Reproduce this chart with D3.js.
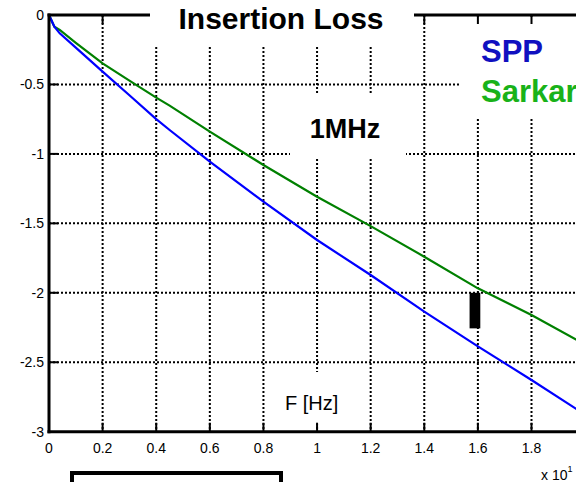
<!DOCTYPE html>
<html>
<head>
<meta charset="utf-8">
<script src="https://cdn.jsdelivr.net/npm/d3@7"></script>
<style>
  body { margin: 0; background: #fff; }
  svg { display: block; font-family: "Liberation Sans", Arial, Helvetica, sans-serif; }
</style>
</head>
<body>
<svg id="chart" width="576" height="482"></svg>
<script>
// frequency (x 10^1 scale on axis), insertion loss values
const freq   = [0, 0.02, 0.04, 0.1, 0.2, 0.3, 0.4, 0.45, 0.6, 0.8, 1.0, 1.2, 1.4, 1.6, 1.8, 1.97, 2.0];
const spp    = [0, -0.084, -0.132, -0.235, -0.408, -0.578, -0.75, -0.828, -1.056, -1.344, -1.62, -1.872, -2.136, -2.386, -2.628, -2.84, -2.875];
const sarkar = [0, -0.084, -0.108, -0.2, -0.348, -0.472, -0.595, -0.652, -0.84, -1.08, -1.308, -1.52, -1.74, -1.968, -2.16, -2.34, -2.37];

const xTicks = [0, 0.2, 0.4, 0.6, 0.8, 1, 1.2, 1.4, 1.6, 1.8, 2];
const yTicks = [0, -0.5, -1, -1.5, -2, -2.5, -3];

// the small black bar near f=1.6
const barX = [1.569, 1.609];
const barY = [-2.0, -2.256];

const svg = d3.select('#chart');

const x = d3.scaleLinear().domain([0, 1.8]).range([49, 531.5]);
const y = d3.scaleLinear().domain([0, -3]).range([15, 431.7]);

const x0 = x(0), y0 = y(-3), yTop = y(0), xRight = x(2);

// grid
const grid = svg.append('g')
    .attr('stroke', '#000')
    .attr('stroke-width', 2)
    .attr('stroke-dasharray', '2,2');

grid.selectAll('.vgrid')
    .data(xTicks.filter(d => d > 0))
    .enter().append('line')
    .attr('class', 'vgrid')
    .attr('x1', d => x(d)).attr('x2', d => x(d))
    .attr('y1', yTop).attr('y2', y0);

grid.selectAll('.hgrid')
    .data(yTicks.filter(d => d < 0 && d > -3))
    .enter().append('line')
    .attr('class', 'hgrid')
    .attr('x1', x0).attr('x2', xRight)
    .attr('y1', d => y(d)).attr('y2', d => y(d));

// curves
const line = d3.line()
    .x((d, i) => x(freq[i]))
    .y(d => y(d));

svg.append('path')
    .datum(sarkar)
    .attr('fill', 'none')
    .attr('stroke', '#008000')
    .attr('stroke-width', 2.2)
    .attr('d', line);

svg.append('path')
    .datum(spp)
    .attr('fill', 'none')
    .attr('stroke', '#0000ff')
    .attr('stroke-width', 2.2)
    .attr('d', line);

svg.append('rect')
    .attr('x', x(barX[0]))
    .attr('y', y(barY[0]))
    .attr('width', x(barX[1]) - x(barX[0]))
    .attr('height', y(barY[1]) - y(barY[0]))
    .attr('fill', '#000');

// white backgrounds of the annotations
svg.append('rect').attr('x', 459).attr('y', 17).attr('width', 130).attr('height', 101).attr('fill', '#fff');
svg.append('rect').attr('x', 290).attr('y', 95).attr('width', 116).attr('height', 62).attr('fill', '#fff');
svg.append('rect').attr('x', 283).attr('y', 372).attr('width', 68).attr('height', 52).attr('fill', '#fff');

// axes box
const axes = svg.append('g').attr('stroke', '#000').attr('stroke-width', 3);
axes.append('line').attr('x1', x0).attr('x2', x0).attr('y1', yTop - 1.5).attr('y2', y0 + 1.5);
axes.append('line').attr('x1', x0 - 1.5).attr('x2', xRight).attr('y1', y0).attr('y2', y0);
axes.append('line').attr('x1', x0 - 1.5).attr('x2', xRight).attr('y1', yTop).attr('y2', yTop);

const ticks = svg.append('g').attr('stroke', '#000').attr('stroke-width', 2);
ticks.selectAll('.xt')
    .data(xTicks.filter(d => d > 0))
    .enter().append('line')
    .attr('x1', d => x(d)).attr('x2', d => x(d))
    .attr('y1', y0).attr('y2', y0 - 9);
ticks.selectAll('.xtt')
    .data(xTicks.filter(d => d > 0))
    .enter().append('line')
    .attr('x1', d => x(d)).attr('x2', d => x(d))
    .attr('y1', yTop).attr('y2', yTop + 9);
ticks.selectAll('.yt')
    .data(yTicks.filter(d => d < 0 && d > -3))
    .enter().append('line')
    .attr('x1', x0).attr('x2', x0 + 9)
    .attr('y1', d => y(d)).attr('y2', d => y(d));

// tick labels (the label at 2 falls outside the picture)
svg.selectAll('.xl')
    .data(xTicks.filter(d => x(d) < 560))
    .enter().append('text')
    .attr('x', d => x(d))
    .attr('y', y0 + 21)
    .attr('text-anchor', 'middle')
    .attr('font-size', 14)
    .text(d => String(d));

svg.selectAll('.yl')
    .data(yTicks)
    .enter().append('text')
    .attr('x', x0 - 5)
    .attr('y', d => y(d) + 5)
    .attr('text-anchor', 'end')
    .attr('font-size', 14)
    .text(d => String(d));

const expo = svg.append('text')
    .attr('x', 541)
    .attr('y', 480)
    .attr('font-size', 14)
    .text('x 10');
expo.append('tspan').attr('dy', -8).attr('font-size', 9).text('1');

// title over the top axis line
svg.append('rect').attr('x', 150).attr('y', 0).attr('width', 264).attr('height', 46).attr('fill', '#fff');
svg.append('text')
    .attr('x', 281)
    .attr('y', 29)
    .attr('text-anchor', 'middle')
    .attr('font-size', 30)
    .attr('font-weight', 'bold')
    .text('Insertion Loss');

svg.append('text')
    .attr('x', 345)
    .attr('y', 138)
    .attr('text-anchor', 'middle')
    .attr('font-size', 27)
    .attr('font-weight', 'bold')
    .text('1MHz');

svg.append('text')
    .attr('x', 481)
    .attr('y', 62)
    .attr('font-size', 31)
    .attr('font-weight', 'bold')
    .attr('fill', '#1010c0')
    .text('SPP');

svg.append('text')
    .attr('x', 481)
    .attr('y', 102)
    .attr('font-size', 31)
    .attr('font-weight', 'bold')
    .attr('fill', '#19b219')
    .text('Sarkar');

svg.append('text')
    .attr('x', 285)
    .attr('y', 410)
    .attr('font-size', 20)
    .text('F [Hz]');

// partially visible box at the bottom
svg.append('rect')
    .attr('x', 72).attr('y', 473)
    .attr('width', 209).attr('height', 30)
    .attr('fill', 'none')
    .attr('stroke', '#000')
    .attr('stroke-width', 4);
</script>
</body>
</html>
